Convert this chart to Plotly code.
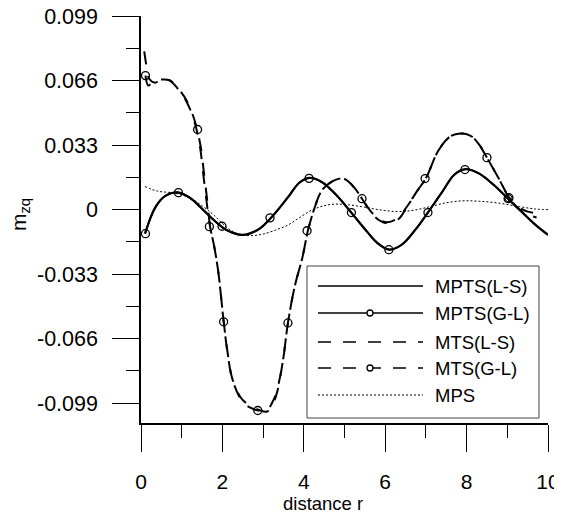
import plotly.graph_objects as go

# ---------------- data ----------------
mpts_ls_x = [0.1, 0.35, 0.6, 0.9, 1.2, 1.5, 1.8, 2.1, 2.5, 2.9, 3.2, 3.6, 3.9, 4.15, 4.45, 4.8,
             5.15, 5.5, 5.8, 6.1, 6.4, 6.75, 7.05, 7.4, 7.7, 7.98, 8.3, 8.7, 9.0, 9.35, 9.7, 10.0]
mpts_ls_y = [-0.0123, 0.0010, 0.0070, 0.0088, 0.0060, 0.0005, -0.0055, -0.0105, -0.0130, -0.0100,
             -0.0040, 0.0060, 0.0140, 0.0163, 0.0140, 0.0075, -0.0010, -0.0100, -0.0170, -0.0205,
             -0.0180, -0.0100, -0.0015, 0.0090, 0.0180, 0.0208, 0.0185, 0.0120, 0.0060, -0.0010,
             -0.0080, -0.0130]

mpts_gl_x = [0.1, 0.35, 0.6, 0.9, 1.2, 1.5, 1.8, 2.1, 2.5, 2.9, 3.2, 3.6, 3.9, 4.15, 4.45, 4.8,
             5.15, 5.5, 5.8, 6.1, 6.4, 6.75, 7.05, 7.4, 7.7, 7.98, 8.3, 8.7, 9.0, 9.35, 9.7, 10.0]
mpts_gl_y = [-0.0122, 0.0012, 0.0071, 0.0089, 0.0061, 0.0004, -0.0056, -0.0104, -0.0129, -0.0099,
             -0.0041, 0.0061, 0.0139, 0.0162, 0.0141, 0.0074, -0.0011, -0.0099, -0.0169, -0.0204,
             -0.0181, -0.0101, -0.0014, 0.0091, 0.0179, 0.0207, 0.0186, 0.0121, 0.0059, -0.0011,
             -0.0079, -0.0128]
mpts_gl_nodes_x = [0.11, 0.92, 1.99, 3.17, 4.13, 5.17, 6.09, 7.05, 7.96, 9.02]
mpts_gl_nodes_y = [-0.0123, 0.0087, -0.0085, -0.0042, 0.0160, -0.0015, -0.0205, -0.0015, 0.0205, 0.0056]

mts_ls_x = [0.08, 0.13, 0.2, 0.35, 0.5, 0.7, 0.9, 1.1, 1.3, 1.45, 1.52, 1.6, 1.7, 1.8, 1.9, 2.03,
            2.12, 2.25, 2.48, 2.7, 2.9, 3.1, 3.25, 3.35, 3.49, 3.61, 3.78, 3.96, 4.1, 4.25, 4.45,
            4.75, 5.0, 5.25, 5.43, 5.65, 5.85, 6.05, 6.3, 6.55, 6.8, 7.0, 7.3, 7.6, 7.85, 8.1,
            8.3, 8.5, 8.8, 9.05, 9.3, 9.5, 9.78]
mts_ls_y = [0.0810, 0.0740, 0.0670, 0.0650, 0.0668, 0.0662, 0.0620, 0.0560, 0.0460, 0.0320,
            0.0200, 0.0060, -0.0090, -0.0190, -0.0320, -0.0570, -0.0720, -0.0870, -0.0970,
            -0.1005, -0.1025, -0.1033, -0.0990, -0.0930, -0.0770, -0.0580, -0.0390, -0.0250,
            -0.0110, 0.0000, 0.0100, 0.0150, 0.0158, 0.0110, 0.0056, -0.0010, -0.0050, -0.0065,
            -0.0045, 0.0020, 0.0100, 0.0160, 0.0300, 0.0375, 0.0390, 0.0378, 0.0335, 0.0266,
            0.0155, 0.0060, 0.0010, -0.0010, -0.0020]

mts_gl_x = [0.11, 0.18, 0.3, 0.5, 0.7, 0.92, 1.12, 1.32, 1.47, 1.54, 1.62, 1.7, 1.8, 1.9, 2.03,
            2.12, 2.25, 2.5, 2.7, 2.88, 3.08, 3.23, 3.34, 3.49, 3.61, 3.78, 3.96, 4.1, 4.25, 4.45,
            4.75, 5.0, 5.25, 5.43, 5.65, 5.88, 6.08, 6.33, 6.55, 6.8, 7.0, 7.3, 7.6, 7.85, 8.1,
            8.3, 8.5, 8.8, 9.05, 9.3, 9.5, 9.72]
mts_gl_y = [0.0686, 0.0635, 0.0655, 0.0666, 0.0662, 0.0618, 0.0558, 0.0455, 0.0318, 0.0200,
            0.0060, -0.0088, -0.0190, -0.0320, -0.0572, -0.0722, -0.0872, -0.0985, -0.1015,
            -0.1028, -0.1030, -0.0985, -0.0925, -0.0770, -0.0580, -0.0390, -0.0250, -0.0108,
            0.0000, 0.0100, 0.0150, 0.0157, 0.0110, 0.0056, -0.0015, -0.0058, -0.0070, -0.0048,
            0.0020, 0.0100, 0.0160, 0.0300, 0.0375, 0.0390, 0.0378, 0.0335, 0.0266, 0.0155,
            0.0060, 0.0000, -0.0025, -0.0040]
mts_gl_nodes_x = [0.11, 1.39, 1.68, 2.03, 2.87, 3.61, 4.08, 5.43, 6.98, 8.50, 9.04]
mts_gl_nodes_y = [0.0686, 0.0410, -0.0087, -0.0574, -0.1028, -0.0580, -0.0108, 0.0056, 0.0159, 0.0266, 0.0061]

mps_x = [0.1, 0.4, 0.8, 1.2, 1.5, 1.8, 2.1, 2.4, 2.7, 3.0, 3.3, 3.6, 3.9, 4.2, 4.5, 4.75, 5.1,
         5.5, 5.9, 6.3, 6.7, 7.1, 7.5, 7.9, 8.3, 8.8, 9.3, 9.7, 10.0]
mps_y = [0.0118, 0.0095, 0.0085, 0.0060, 0.0020, -0.0030, -0.0090, -0.0125, -0.0133, -0.0125,
         -0.0105, -0.0080, -0.0040, -0.0002, 0.0020, 0.0028, 0.0025, 0.0012, -0.0002, -0.0010,
         -0.0003, 0.0015, 0.0035, 0.0045, 0.0043, 0.0033, 0.0015, 0.0003, 0.0000]

x_ticks = [0, 2, 4, 6, 8, 10]
x_minor = [1, 3, 5, 7, 9]
y_ticks = [0.099, 0.066, 0.033, 0, -0.033, -0.066, -0.099]
y_ticktext = ["0.099", "0.066", "0.033", "0", "-0.033", "-0.066", "-0.099"]
y_minor = [0.0825, 0.0495, 0.0165, -0.0165, -0.0495, -0.0825]
legend_names = ["MPTS(L-S)", "MPTS(G-L)", "MTS(L-S)", "MTS(G-L)", "MPS"]

# ---------------- styles ----------------
FONT = "Arial, Liberation Sans, sans-serif"
DASH = "13px,12px"
DOT = "2px,2px"

fig = go.Figure()

def curve(x, y, dash, width, name):
    fig.add_trace(go.Scatter(x=x, y=y, mode="lines", name=name, showlegend=False,
                             line=dict(color="black", width=width, dash=dash, shape="spline",
                                       smoothing=1.0)))

def nodes(x, y, name):
    fig.add_trace(go.Scatter(x=x, y=y, mode="markers", name=name, showlegend=False,
                             marker=dict(symbol="circle-open", size=8, color="black",
                                         line=dict(width=1.3, color="black"))))

curve(mps_x, mps_y, DOT, 1, "MPS")
curve(mts_ls_x, mts_ls_y, DASH, 2, "MTS(L-S)")
curve(mts_gl_x, mts_gl_y, DASH, 2, "MTS(G-L)")
nodes(mts_gl_nodes_x, mts_gl_nodes_y, "MTS(G-L)")
curve(mpts_ls_x, mpts_ls_y, "solid", 2, "MPTS(L-S)")
curve(mpts_gl_x, mpts_gl_y, "solid", 2, "MPTS(G-L)")
nodes(mpts_gl_nodes_x, mpts_gl_nodes_y, "MPTS(G-L)")

# ---------------- geometry ----------------
OFF = 8                      # page body margin in the browser
W, H = 562 - OFF, 515 - OFF  # figure size so it fits the window
L, T, PW, PH = 141 - OFF, 16 - OFF, 407, 407   # plot-area pixel geometry within the figure

def px(xp):   # page pixel x -> paper x
    return (xp - OFF - L) / PW
def py(yp):   # page pixel y -> paper y
    return (T + PH - (yp - OFF)) / PH

# ---------------- custom legend (long line samples like the reference) ----------------
shapes = [dict(type="rect", xref="paper", yref="paper", x0=px(307), x1=px(539),
               y0=py(418), y1=py(266), line=dict(color="#444", width=1), fillcolor="white",
               layer="above")]
row_y = [286, 313, 342, 368, 395]
styles = [("solid", 1.6, False), ("solid", 1.6, True), (DASH, 1.6, False), (DASH, 1.6, True),
          (DOT, 1, False)]
annotations = []
for name, yy, (dash, w, mk) in zip(legend_names, row_y, styles):
    shapes.append(dict(type="line", xref="paper", yref="paper", x0=px(318), x1=px(423),
                       y0=py(yy), y1=py(yy), line=dict(color="black", width=w, dash=dash),
                       layer="above"))
    if mk:
        shapes.append(dict(type="circle", xref="paper", yref="paper", xsizemode="pixel",
                           ysizemode="pixel", xanchor=px(370), yanchor=py(yy),
                           x0=-3, x1=3, y0=-3, y1=3, fillcolor="white",
                           line=dict(color="black", width=1.3), layer="above"))
    annotations.append(dict(text=name, xref="paper", yref="paper", x=px(433), y=py(yy),
                            xanchor="left", yanchor="middle", showarrow=False,
                            font=dict(family=FONT, size=18.5, color="black")))

annotations.append(dict(text="distance r", xref="paper", yref="paper", x=px(323), y=py(503),
                        xanchor="center", yanchor="middle", showarrow=False,
                        font=dict(family=FONT, size=18.5, color="black")))
annotations.append(dict(text="m<sub>zq</sub>", xref="paper", yref="paper", x=px(20), y=py(215),
                        xanchor="center", yanchor="middle", showarrow=False, textangle=-90,
                        font=dict(family=FONT, size=21, color="black")))

fig.update_layout(
    width=W, height=H,
    margin=dict(l=L, r=W - L - PW, t=T, b=H - T - PH, pad=0, autoexpand=False),
    paper_bgcolor="white", plot_bgcolor="white",
    showlegend=False,
    font=dict(family=FONT, size=21, color="black"),
    shapes=shapes, annotations=annotations,
)
fig.update_xaxes(range=[0, 10], automargin=False, showgrid=False, zeroline=False, showline=True,
                 linecolor="black", linewidth=1.5, ticks="outside", ticklen=27, tickwidth=1,
                 tickcolor="black", tickmode="array", tickvals=x_ticks,
                 ticktext=[str(v) for v in x_ticks], tickfont=dict(size=21),
                 ticklabelstandoff=12, ticklabeloverflow="allow",
                 minor=dict(tickmode="array", tickvals=x_minor, ticks="outside", ticklen=13,
                            tickwidth=1, tickcolor="black", showgrid=False))
fig.update_yaxes(range=[-0.1092, 0.0991], automargin=False, showgrid=False, zeroline=False,
                 showline=True,
                 linecolor="black", linewidth=1.5, ticks="outside", ticklen=27, tickwidth=1,
                 tickcolor="black", tickmode="array", tickvals=y_ticks, ticktext=y_ticktext,
                 tickfont=dict(size=21.5), ticklabelstandoff=10, ticklabeloverflow="allow",
                 minor=dict(tickmode="array", tickvals=y_minor, ticks="outside", ticklen=13,
                            tickwidth=1, tickcolor="black", showgrid=False))

fig.write_html("out.html")
